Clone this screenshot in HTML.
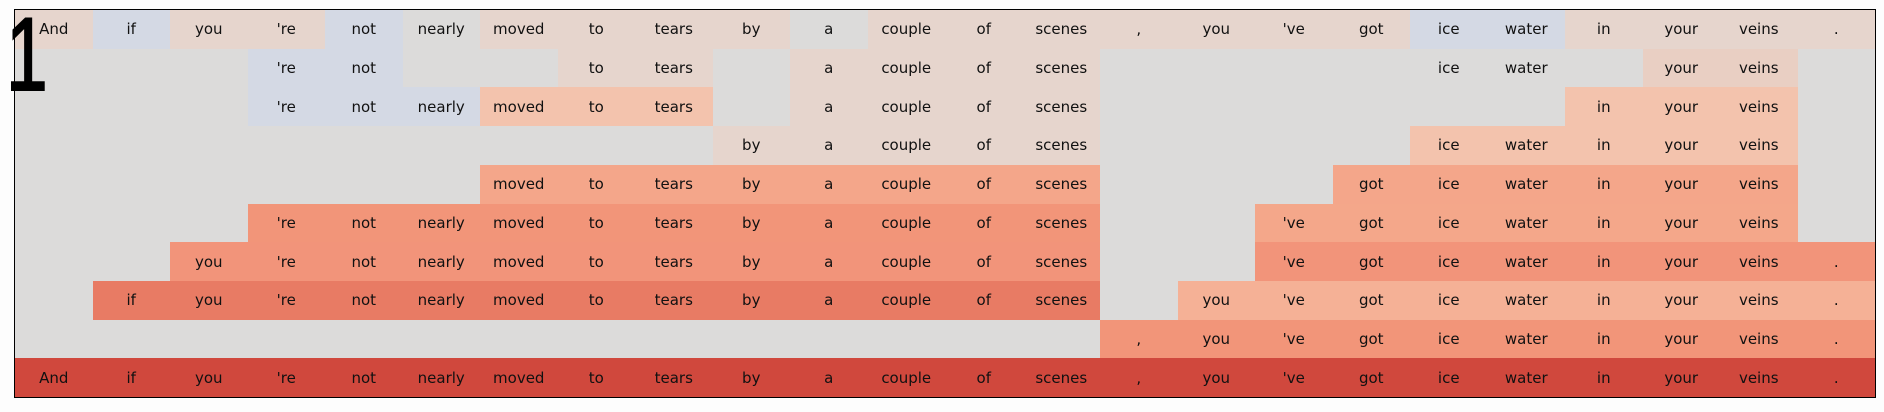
<!DOCTYPE html>
<html><head><meta charset="utf-8"><style>
html,body{margin:0;padding:0;background:#fdfdfd;width:1884px;height:412px;overflow:hidden}
#g{position:absolute;left:15px;top:10px;width:1860px;height:387px;background:#dcdbda;display:grid;grid-template-columns:repeat(24,1fr);grid-template-rows:repeat(10,1fr);outline:1.5px solid #000;font-family:"DejaVu Sans","Liberation Sans",sans-serif;font-size:15px;color:#111}
#g div{display:flex;align-items:center;justify-content:center}
.p{background:#e6d5cd}.b{background:#d4d9e4}.y1{background:#e9cfc3}.y2{background:#f3c3ad}
.r4{background:#f4a68a}.r5{background:#f29579}.r5b{background:#f4a78a}.r6{background:#f2947a}
.r7{background:#e87b64}.r7b{background:#f5b196}.r8{background:#f29579}.r9{background:#d0483d}
#one{position:absolute;left:6px;top:5px;font-family:"Liberation Sans",sans-serif;font-size:104px;line-height:100px;color:#000;-webkit-text-stroke:2px #000;transform:scaleX(0.72);transform-origin:0 0}
</style></head><body>
<div id="g">
<div class="p" style="grid-area:1/1">And</div><div class="b" style="grid-area:1/2">if</div><div class="p" style="grid-area:1/3">you</div><div class="p" style="grid-area:1/4">'re</div><div class="b" style="grid-area:1/5">not</div><div style="grid-area:1/6">nearly</div><div class="p" style="grid-area:1/7">moved</div><div class="p" style="grid-area:1/8">to</div><div class="p" style="grid-area:1/9">tears</div><div class="p" style="grid-area:1/10">by</div><div style="grid-area:1/11">a</div><div class="p" style="grid-area:1/12">couple</div><div class="p" style="grid-area:1/13">of</div><div class="p" style="grid-area:1/14">scenes</div><div class="p" style="grid-area:1/15">,</div><div class="p" style="grid-area:1/16">you</div><div class="p" style="grid-area:1/17">'ve</div><div class="p" style="grid-area:1/18">got</div><div class="b" style="grid-area:1/19">ice</div><div class="b" style="grid-area:1/20">water</div><div class="p" style="grid-area:1/21">in</div><div class="p" style="grid-area:1/22">your</div><div class="p" style="grid-area:1/23">veins</div><div class="p" style="grid-area:1/24">.</div>
<div class="b" style="grid-area:2/4">'re</div><div class="b" style="grid-area:2/5">not</div><div class="p" style="grid-area:2/8">to</div><div class="p" style="grid-area:2/9">tears</div><div class="p" style="grid-area:2/11">a</div><div class="p" style="grid-area:2/12">couple</div><div class="p" style="grid-area:2/13">of</div><div class="p" style="grid-area:2/14">scenes</div><div style="grid-area:2/19">ice</div><div style="grid-area:2/20">water</div><div class="y1" style="grid-area:2/22">your</div><div class="y1" style="grid-area:2/23">veins</div>
<div class="b" style="grid-area:3/4">'re</div><div class="b" style="grid-area:3/5">not</div><div class="b" style="grid-area:3/6">nearly</div><div class="y2" style="grid-area:3/7">moved</div><div class="y2" style="grid-area:3/8">to</div><div class="y2" style="grid-area:3/9">tears</div><div class="p" style="grid-area:3/11">a</div><div class="p" style="grid-area:3/12">couple</div><div class="p" style="grid-area:3/13">of</div><div class="p" style="grid-area:3/14">scenes</div><div class="y2" style="grid-area:3/21">in</div><div class="y2" style="grid-area:3/22">your</div><div class="y2" style="grid-area:3/23">veins</div>
<div class="p" style="grid-area:4/10">by</div><div class="p" style="grid-area:4/11">a</div><div class="p" style="grid-area:4/12">couple</div><div class="p" style="grid-area:4/13">of</div><div class="p" style="grid-area:4/14">scenes</div><div class="y2" style="grid-area:4/19">ice</div><div class="y2" style="grid-area:4/20">water</div><div class="y2" style="grid-area:4/21">in</div><div class="y2" style="grid-area:4/22">your</div><div class="y2" style="grid-area:4/23">veins</div>
<div class="r4" style="grid-area:5/7">moved</div><div class="r4" style="grid-area:5/8">to</div><div class="r4" style="grid-area:5/9">tears</div><div class="r4" style="grid-area:5/10">by</div><div class="r4" style="grid-area:5/11">a</div><div class="r4" style="grid-area:5/12">couple</div><div class="r4" style="grid-area:5/13">of</div><div class="r4" style="grid-area:5/14">scenes</div><div class="r4" style="grid-area:5/18">got</div><div class="r4" style="grid-area:5/19">ice</div><div class="r4" style="grid-area:5/20">water</div><div class="r4" style="grid-area:5/21">in</div><div class="r4" style="grid-area:5/22">your</div><div class="r4" style="grid-area:5/23">veins</div>
<div class="r5" style="grid-area:6/4">'re</div><div class="r5" style="grid-area:6/5">not</div><div class="r5" style="grid-area:6/6">nearly</div><div class="r5" style="grid-area:6/7">moved</div><div class="r5" style="grid-area:6/8">to</div><div class="r5" style="grid-area:6/9">tears</div><div class="r5" style="grid-area:6/10">by</div><div class="r5" style="grid-area:6/11">a</div><div class="r5" style="grid-area:6/12">couple</div><div class="r5" style="grid-area:6/13">of</div><div class="r5" style="grid-area:6/14">scenes</div><div class="r5b" style="grid-area:6/17">'ve</div><div class="r5b" style="grid-area:6/18">got</div><div class="r5b" style="grid-area:6/19">ice</div><div class="r5b" style="grid-area:6/20">water</div><div class="r5b" style="grid-area:6/21">in</div><div class="r5b" style="grid-area:6/22">your</div><div class="r5b" style="grid-area:6/23">veins</div>
<div class="r6" style="grid-area:7/3">you</div><div class="r6" style="grid-area:7/4">'re</div><div class="r6" style="grid-area:7/5">not</div><div class="r6" style="grid-area:7/6">nearly</div><div class="r6" style="grid-area:7/7">moved</div><div class="r6" style="grid-area:7/8">to</div><div class="r6" style="grid-area:7/9">tears</div><div class="r6" style="grid-area:7/10">by</div><div class="r6" style="grid-area:7/11">a</div><div class="r6" style="grid-area:7/12">couple</div><div class="r6" style="grid-area:7/13">of</div><div class="r6" style="grid-area:7/14">scenes</div><div class="r6" style="grid-area:7/17">'ve</div><div class="r6" style="grid-area:7/18">got</div><div class="r6" style="grid-area:7/19">ice</div><div class="r6" style="grid-area:7/20">water</div><div class="r6" style="grid-area:7/21">in</div><div class="r6" style="grid-area:7/22">your</div><div class="r6" style="grid-area:7/23">veins</div><div class="r6" style="grid-area:7/24">.</div>
<div class="r7" style="grid-area:8/2">if</div><div class="r7" style="grid-area:8/3">you</div><div class="r7" style="grid-area:8/4">'re</div><div class="r7" style="grid-area:8/5">not</div><div class="r7" style="grid-area:8/6">nearly</div><div class="r7" style="grid-area:8/7">moved</div><div class="r7" style="grid-area:8/8">to</div><div class="r7" style="grid-area:8/9">tears</div><div class="r7" style="grid-area:8/10">by</div><div class="r7" style="grid-area:8/11">a</div><div class="r7" style="grid-area:8/12">couple</div><div class="r7" style="grid-area:8/13">of</div><div class="r7" style="grid-area:8/14">scenes</div><div class="r7b" style="grid-area:8/16">you</div><div class="r7b" style="grid-area:8/17">'ve</div><div class="r7b" style="grid-area:8/18">got</div><div class="r7b" style="grid-area:8/19">ice</div><div class="r7b" style="grid-area:8/20">water</div><div class="r7b" style="grid-area:8/21">in</div><div class="r7b" style="grid-area:8/22">your</div><div class="r7b" style="grid-area:8/23">veins</div><div class="r7b" style="grid-area:8/24">.</div>
<div class="r8" style="grid-area:9/15">,</div><div class="r8" style="grid-area:9/16">you</div><div class="r8" style="grid-area:9/17">'ve</div><div class="r8" style="grid-area:9/18">got</div><div class="r8" style="grid-area:9/19">ice</div><div class="r8" style="grid-area:9/20">water</div><div class="r8" style="grid-area:9/21">in</div><div class="r8" style="grid-area:9/22">your</div><div class="r8" style="grid-area:9/23">veins</div><div class="r8" style="grid-area:9/24">.</div>
<div class="r9" style="grid-area:10/1">And</div><div class="r9" style="grid-area:10/2">if</div><div class="r9" style="grid-area:10/3">you</div><div class="r9" style="grid-area:10/4">'re</div><div class="r9" style="grid-area:10/5">not</div><div class="r9" style="grid-area:10/6">nearly</div><div class="r9" style="grid-area:10/7">moved</div><div class="r9" style="grid-area:10/8">to</div><div class="r9" style="grid-area:10/9">tears</div><div class="r9" style="grid-area:10/10">by</div><div class="r9" style="grid-area:10/11">a</div><div class="r9" style="grid-area:10/12">couple</div><div class="r9" style="grid-area:10/13">of</div><div class="r9" style="grid-area:10/14">scenes</div><div class="r9" style="grid-area:10/15">,</div><div class="r9" style="grid-area:10/16">you</div><div class="r9" style="grid-area:10/17">'ve</div><div class="r9" style="grid-area:10/18">got</div><div class="r9" style="grid-area:10/19">ice</div><div class="r9" style="grid-area:10/20">water</div><div class="r9" style="grid-area:10/21">in</div><div class="r9" style="grid-area:10/22">your</div><div class="r9" style="grid-area:10/23">veins</div><div class="r9" style="grid-area:10/24">.</div>
</div>
<div id="one">1</div>
</body></html>
